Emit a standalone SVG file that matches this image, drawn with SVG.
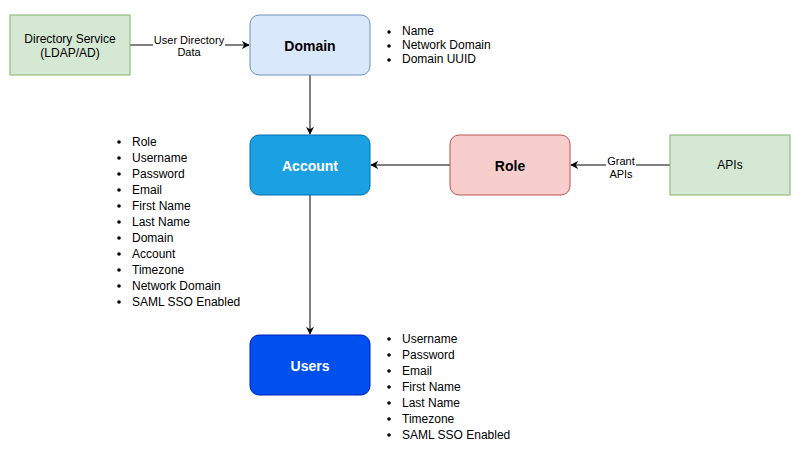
<svg xmlns="http://www.w3.org/2000/svg" width="801" height="476" viewBox="0 0 801 476">
<style>
text{font-family:"Liberation Sans",Arial,sans-serif;}
.lbl{font-size:12px;fill:#000;text-anchor:middle;}
.title{font-size:14px;font-weight:bold;text-anchor:middle;}
.el{font-size:11px;fill:#000;text-anchor:middle;}
.li{font-size:12px;fill:#000;}
.edge{stroke:#000;stroke-width:1;fill:none;}
</style>
<defs>
<marker id="arr" viewBox="0 0 10 10" refX="9" refY="5" markerWidth="8" markerHeight="8" markerUnits="userSpaceOnUse" orient="auto">
<path d="M0,0 L10,5 L0,10 L3,5 Z" fill="#000"/>
</marker>
</defs>
<rect width="801" height="476" fill="#fff"/>
<g id="connectors">
<line class="edge" x1="130" y1="45" x2="249" y2="45" marker-end="url(#arr)"/>
<rect x="153" y="33" width="72" height="26" fill="#fff"/>
<text class="el" x="189" y="44">User Directory</text>
<text class="el" x="189" y="56">Data</text>
<line class="edge" x1="310" y1="75" x2="310" y2="134" marker-end="url(#arr)"/>
<line class="edge" x1="450" y1="165" x2="371" y2="165" marker-end="url(#arr)"/>
<line class="edge" x1="670" y1="165" x2="571" y2="165" marker-end="url(#arr)"/>
<rect x="606" y="155" width="30" height="26" fill="#fff"/>
<text class="el" x="621" y="165">Grant</text>
<text class="el" x="621" y="178">APIs</text>
<line class="edge" x1="310" y1="195" x2="310" y2="334" marker-end="url(#arr)"/>
</g>
<g id="directory">
<rect x="10" y="15" width="120" height="60" fill="#d5e8d4" stroke="#82b366"/>
<text class="lbl" x="70" y="43">Directory Service</text>
<text class="lbl" x="70" y="57">(LDAP/AD)</text>
</g>
<g id="domain">
<rect x="250" y="15" width="120" height="60" rx="9" fill="#dae8fc" stroke="#6c8ebf"/>
<text class="title" x="310" y="51" fill="#000">Domain</text>
</g>
<g id="account">
<rect x="250" y="135" width="120" height="60" rx="9" fill="#1ba1e2" stroke="#006eaf"/>
<text class="title" x="310" y="171" fill="#fff">Account</text>
</g>
<g id="role">
<rect x="450" y="135" width="120" height="60" rx="9" fill="#f8cecc" stroke="#b85450"/>
<text class="title" x="510" y="171" fill="#000">Role</text>
</g>
<g id="apis">
<rect x="670" y="135" width="120" height="60" fill="#d5e8d4" stroke="#82b366"/>
<text class="lbl" x="730" y="169">APIs</text>
</g>
<g id="users">
<rect x="250" y="335" width="120" height="60" rx="9" fill="#0050ef" stroke="#001dbc"/>
<text class="title" x="310" y="371" fill="#fff">Users</text>
</g>
<g id="domain-list">
<circle cx="389" cy="32" r="1.8"/><text class="li" x="402" y="35">Name</text>
<circle cx="389" cy="46" r="1.8"/><text class="li" x="402" y="49">Network Domain</text>
<circle cx="389" cy="60" r="1.8"/><text class="li" x="402" y="63">Domain UUID</text>
</g>
<g id="account-list">
<circle cx="119" cy="142" r="1.8"/><text class="li" x="132" y="146">Role</text>
<circle cx="119" cy="158" r="1.8"/><text class="li" x="132" y="162">Username</text>
<circle cx="119" cy="174" r="1.8"/><text class="li" x="132" y="178">Password</text>
<circle cx="119" cy="190" r="1.8"/><text class="li" x="132" y="194">Email</text>
<circle cx="119" cy="206" r="1.8"/><text class="li" x="132" y="210">First Name</text>
<circle cx="119" cy="222" r="1.8"/><text class="li" x="132" y="226">Last Name</text>
<circle cx="119" cy="238" r="1.8"/><text class="li" x="132" y="242">Domain</text>
<circle cx="119" cy="254" r="1.8"/><text class="li" x="132" y="258">Account</text>
<circle cx="119" cy="270" r="1.8"/><text class="li" x="132" y="274">Timezone</text>
<circle cx="119" cy="286" r="1.8"/><text class="li" x="132" y="290">Network Domain</text>
<circle cx="119" cy="302" r="1.8"/><text class="li" x="132" y="306">SAML SSO Enabled</text>
</g>
<g id="users-list">
<circle cx="389" cy="339" r="1.8"/><text class="li" x="402" y="343">Username</text>
<circle cx="389" cy="355" r="1.8"/><text class="li" x="402" y="359">Password</text>
<circle cx="389" cy="371" r="1.8"/><text class="li" x="402" y="375">Email</text>
<circle cx="389" cy="387" r="1.8"/><text class="li" x="402" y="391">First Name</text>
<circle cx="389" cy="403" r="1.8"/><text class="li" x="402" y="407">Last Name</text>
<circle cx="389" cy="419" r="1.8"/><text class="li" x="402" y="423">Timezone</text>
<circle cx="389" cy="435" r="1.8"/><text class="li" x="402" y="439">SAML SSO Enabled</text>
</g>
</svg>
